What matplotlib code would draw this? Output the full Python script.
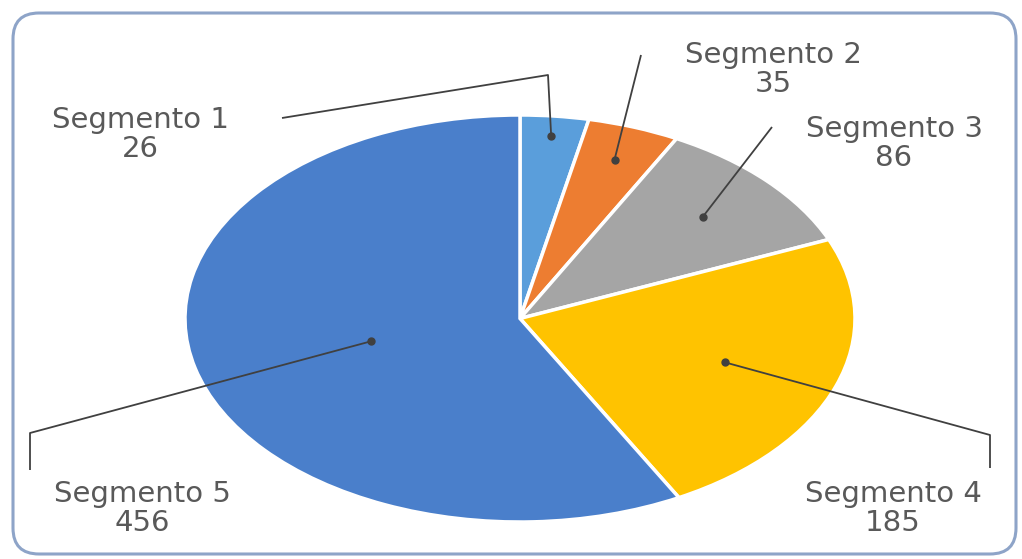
import matplotlib
matplotlib.use("Agg")
import matplotlib.pyplot as plt
import numpy as np
from matplotlib.patches import FancyBboxPatch

# data
labels = ["Segmento 1", "Segmento 2", "Segmento 3", "Segmento 4", "Segmento 5"]
values = [26, 35, 86, 185, 456]
colors = ["#5A9EDB", "#ED7D31", "#A5A5A5", "#FFC300", "#4A7FCB"]

W, H = 1022, 559
TEXT = "#595959"
LINE = "#404040"

fig = plt.figure(figsize=(W / 100, H / 100), dpi=100)

# pie is stretched horizontally, so use its own axes with auto aspect
pie_ax = fig.add_axes([185 / W, (H - 522) / H, 670 / W, 407 / H])
wedges, _ = pie_ax.pie(values, colors=colors, startangle=90, counterclock=False,
                       wedgeprops=dict(edgecolor="white", linewidth=2.5))
pie_ax.set_aspect("auto")
pie_ax.set_xlim(-1, 1); pie_ax.set_ylim(-1, 1)

# overlay in pixel coords (y down) for frame, leader lines and labels
over = fig.add_axes([0, 0, 1, 1])
over.set_xlim(0, W); over.set_ylim(H, 0)
over.axis("off")

frame = FancyBboxPatch((13, 13), 1003, 541,
                       boxstyle="round,pad=0,rounding_size=26",
                       fc="none", ec="#8EA4C8", lw=2.2)
over.add_patch(frame)

# leader lines: dot radius in wedge, then label-side points
dot_r = [0.9, 0.83, 0.74, 0.65, 0.46]
legs = [[(548, 75), (282, 118)],
        [(641, 55)],
        [(772, 127)],
        [(990, 435), (990, 468)],
        [(30, 433), (30, 470)]]
# label centre x and baseline y of the first line
label_pos = [(140, 128), (773, 63), (894, 137), (893, 502), (142, 502)]

to_over = over.transData.inverted()
for w, r, leg in zip(wedges, dot_r, legs):
    mid = np.deg2rad((w.theta1 + w.theta2) / 2)
    pt = pie_ax.transData.transform((r * np.cos(mid), r * np.sin(mid)))
    dx, dy = to_over.transform(pt)
    xs = [dx] + [p[0] for p in leg]
    ys = [dy] + [p[1] for p in leg]
    over.plot(xs, ys, color=LINE, lw=1.3, solid_capstyle="butt")
    over.plot(dx, dy, "o", color=LINE, ms=5)

for name, val, (x, y) in zip(labels, values, label_pos):
    over.text(x, y, name, ha="center", va="baseline", fontsize=21, color=TEXT)
    over.text(x, y + 29, str(val), ha="center", va="baseline", fontsize=21, color=TEXT)

fig.savefig("out.png", dpi=100, facecolor="white")
